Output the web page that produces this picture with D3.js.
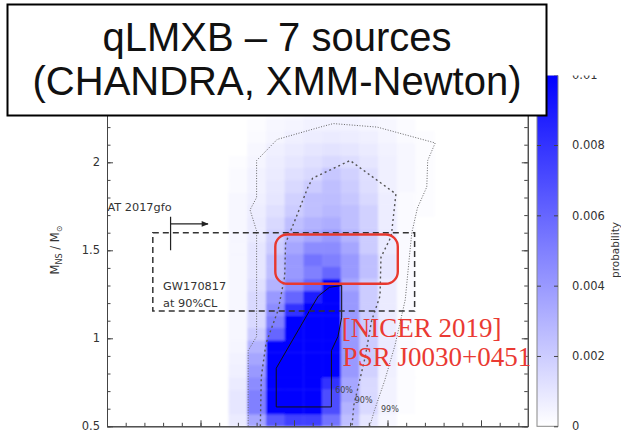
<!DOCTYPE html>
<html>
<head>
<meta charset="utf-8">
<script src="https://cdn.jsdelivr.net/npm/d3@7"></script>
<style>
  body { margin: 0; background: #fff; }
  svg { display: block; }
</style>
</head>
<body>
<div id="chart"></div>
<script>
// ---- data ----
const titleLines = ['qLMXB \u2013 7 sources', '(CHANDRA, XMM-Newton)'];

// heatmap bins: radius centres (km) and mass lower edges (Msun), bin size 0.2 x 0.07
const radiusCenters = [10.4, 10.6, 10.8, 11.0, 11.2, 11.4, 11.6, 11.8, 12.0, 12.2, 12.4];
const massEdges = [0.50, 0.57, 0.64, 0.71, 0.78, 0.85, 0.92, 0.99, 1.06, 1.13, 1.20, 1.27, 1.34,
                   1.41, 1.48, 1.55, 1.62, 1.69, 1.76, 1.83, 1.90, 1.97, 2.04, 2.11, 2.18, 2.25];
// probability, in units of 1e-3 (one row per mass bin, bottom first)
const density = [
  [0.8, 3.5, 6.5, 7.5, 7.5, 5.5, 2.5, 1.0, 0.3, 0.0, 0.0],
  [1.0, 5.0, 12, 14, 14, 7.0, 3.0, 1.5, 0.5, 0.1, 0.0],
  [1.0, 5.0, 12, 14, 14, 7.0, 3.5, 1.5, 0.5, 0.1, 0.0],
  [0.8, 4.5, 12, 14, 14, 8.0, 3.5, 1.5, 0.5, 0.1, 0.0],
  [0.6, 4.0, 11, 14, 14, 11, 4.0, 1.8, 0.6, 0.1, 0.0],
  [0.5, 3.5, 11, 14, 14, 11, 4.0, 2.0, 0.7, 0.1, 0.0],
  [0.4, 3.0, 10, 13, 14, 11, 4.0, 2.0, 0.8, 0.2, 0.0],
  [0.3, 2.0, 6.0, 12, 13, 11, 4.0, 2.0, 0.8, 0.2, 0.0],
  [0.3, 1.5, 5.0, 11, 13, 11, 4.0, 2.0, 0.8, 0.2, 0.0],
  [0.3, 1.5, 4.5, 8.0, 11, 11, 4.0, 2.0, 0.8, 0.2, 0.0],
  [0.3, 1.5, 4.0, 6.0, 9.0, 11, 4.0, 2.0, 0.8, 0.2, 0.0],
  [0.3, 1.2, 3.0, 4.5, 6.0, 10, 3.5, 2.0, 0.8, 0.2, 0.0],
  [0.3, 1.0, 2.5, 4.0, 5.0, 6.0, 4.0, 2.5, 1.0, 0.2, 0.0],
  [0.3, 1.0, 2.5, 4.0, 5.5, 5.0, 4.0, 2.5, 1.0, 0.2, 0.0],
  [0.3, 1.0, 2.0, 3.5, 4.5, 4.5, 3.5, 2.0, 0.8, 0.2, 0.0],
  [0.3, 0.8, 1.8, 3.0, 3.5, 4.0, 3.0, 2.0, 0.8, 0.2, 0.0],
  [0.3, 0.8, 1.5, 2.5, 3.0, 3.2, 2.5, 1.8, 0.7, 0.2, 0.0],
  [0.3, 0.7, 1.2, 2.0, 2.5, 2.8, 2.5, 1.8, 0.7, 0.2, 0.1],
  [0.3, 0.6, 1.0, 1.8, 2.5, 2.6, 2.2, 1.5, 0.7, 0.2, 0.1],
  [0.2, 0.5, 0.9, 1.5, 2.0, 2.5, 2.0, 1.3, 0.6, 0.3, 0.1],
  [0.2, 0.5, 0.8, 1.2, 1.5, 2.2, 1.8, 1.2, 0.6, 0.3, 0.1],
  [0.1, 0.4, 0.7, 1.0, 1.2, 1.5, 1.3, 1.0, 0.6, 0.3, 0.1],
  [0.0, 0.3, 0.6, 0.8, 1.0, 1.1, 1.0, 0.8, 0.5, 0.3, 0.1],
  [0.0, 0.2, 0.4, 0.6, 0.7, 0.8, 0.7, 0.6, 0.4, 0.2, 0.1],
  [0.0, 0.1, 0.3, 0.4, 0.5, 0.5, 0.5, 0.4, 0.3, 0.15, 0.0],
  [0.0, 0.0, 0.1, 0.2, 0.3, 0.3, 0.3, 0.2, 0.1, 0.0, 0.0]
];

const yTickValues = [0.5, 1, 1.5, 2];
const yTickLabels = ['0.5', '1', '1.5', '2'];
const cbTickValues = [0, 0.002, 0.004, 0.006, 0.008, 0.01];
const cbTickLabels = ['0', '0.002', '0.004', '0.006', '0.008', '0.01'];

// credible contours [R, M]
const contour60 = [[10.81, 0.61], [10.81, 0.83], [11.17, 1.16], [11.26, 1.24], [11.38, 1.29],
                   [11.51, 1.30], [11.51, 1.12], [11.47, 1.01], [11.40, 0.93], [11.40, 0.61]];
const contour90 = [[10.64, 0.50], [10.65, 0.78], [10.70, 0.97], [10.83, 1.16], [10.90, 1.35],
                   [10.91, 1.54], [11.01, 1.67], [11.15, 1.86], [11.20, 1.91], [11.60, 2.01],
                   [12.09, 1.82], [12.04, 1.58], [11.93, 1.46], [11.92, 1.24], [11.83, 1.10],
                   [11.76, 0.89], [11.68, 0.71], [11.64, 0.62], [11.62, 0.50]];
const contour99 = [[10.51, 0.50], [10.51, 0.93], [10.60, 1.01], [10.60, 1.61], [10.53, 1.73],
                   [10.60, 1.80], [10.60, 2.01], [10.82, 2.13], [11.28, 2.20], [11.42, 2.22],
                   [11.89, 2.20], [12.51, 2.11], [12.43, 2.01], [12.42, 1.86], [12.32, 1.74],
                   [12.26, 1.60], [12.23, 1.44], [12.19, 1.22], [12.08, 0.96], [11.97, 0.76],
                   [11.86, 0.59], [11.81, 0.50]];
const contourLabels = ['60%', '90%', '99%'];
const contourLabelPos = [[11.44, 0.69], [11.65, 0.635], [11.93, 0.58]];

// GW170817 box and NICER box
const gwR = [9.49, 12.29];
const gwM = [1.155, 1.60];
const nicerR = [10.80, 12.11];
const nicerM = [1.31, 1.59];
// AT 2017gfo lower bound marker
const atR = 9.68;
const atM = [1.50, 1.69];
const atArrow = [[9.68, 1.65], [10.08, 1.65]];

// ---- layout ----
const W = 621, H = 435;
const x = d3.scaleLinear().domain([9, 13.5]).range([107, 527.75]);
const y = d3.scaleLinear().domain([0.5, 2.5]).range([426.3, 74.3]);
const cb = d3.scaleLinear().domain([0, 0.01]).range([426.3, 74.7]);
const color = d3.scaleLinear().domain([0, 10]).range(['#ffffff', '#0000ff']).clamp(true);

const svg = d3.select('#chart').append('svg')
  .attr('width', W).attr('height', H)
  .style('font-family', '"DejaVu Sans", sans-serif');

const defs = svg.append('defs');
defs.append('clipPath').attr('id', 'topclip')
  .append('rect').attr('x', 0).attr('y', 75.5).attr('width', W).attr('height', H);
defs.append('filter').attr('id', 'soft')
  .append('feGaussianBlur').attr('stdDeviation', 0.9);
const grad = defs.append('linearGradient').attr('id', 'cbgrad')
  .attr('x1', 0).attr('y1', 1).attr('x2', 0).attr('y2', 0);
grad.selectAll('stop').data(d3.range(0, 1.01, 0.1)).enter().append('stop')
  .attr('offset', d => d)
  .attr('stop-color', d => color(d * 10));
defs.append('marker').attr('id', 'arrow')
  .attr('viewBox', '0 0 10 10').attr('refX', 9).attr('refY', 5)
  .attr('markerWidth', 8).attr('markerHeight', 7).attr('markerUnits', 'userSpaceOnUse')
  .attr('orient', 'auto')
  .append('path').attr('d', 'M0,1L10,5L0,9Z').attr('fill', '#222');

const plot = svg.append('g').attr('clip-path', 'url(#topclip)');

// heatmap
const cells = [];
density.forEach((row, j) => row.forEach((v, i) => cells.push({ r: radiusCenters[i], m: massEdges[j], v })));
plot.append('g').attr('filter', 'url(#soft)')
  .selectAll('rect').data(cells).enter().append('rect')
  .attr('x', d => x(d.r - 0.1))
  .attr('y', d => y(d.m + 0.07))
  .attr('width', d => x(d.r + 0.1) - x(d.r - 0.1) + 0.4)
  .attr('height', d => y(d.m) - y(d.m + 0.07) + 0.4)
  .attr('fill', d => color(d.v));

// contours
const line = d3.line().x(d => x(d[0])).y(d => y(d[1]));
plot.append('path').attr('d', line(contour99))
  .attr('fill', 'none').attr('stroke', '#666').attr('stroke-width', 1)
  .attr('stroke-dasharray', '1,1.6');
plot.append('path').attr('d', line(contour90))
  .attr('fill', 'none').attr('stroke', '#555').attr('stroke-width', 1.4)
  .attr('stroke-dasharray', '2,3');
plot.append('path').attr('d', line(contour60) + 'Z')
  .attr('fill', 'none').attr('stroke', '#111').attr('stroke-width', 1);

plot.selectAll('.clab').data(contourLabels).enter().append('text')
  .attr('x', (d, i) => x(contourLabelPos[i][0]))
  .attr('y', (d, i) => y(contourLabelPos[i][1]))
  .attr('font-size', 8).attr('fill', '#444')
  .text(d => d);

// GW170817 box
plot.append('rect')
  .attr('x', x(gwR[0])).attr('y', y(gwM[1]))
  .attr('width', x(gwR[1]) - x(gwR[0])).attr('height', y(gwM[0]) - y(gwM[1]))
  .attr('fill', 'none').attr('stroke', '#333').attr('stroke-width', 1.5)
  .attr('stroke-dasharray', '6,4');

// AT 2017gfo marker
plot.append('line')
  .attr('x1', x(atR)).attr('x2', x(atR))
  .attr('y1', y(atM[0])).attr('y2', y(atM[1]))
  .attr('stroke', '#222').attr('stroke-width', 1.2);
plot.append('path').attr('d', line(atArrow))
  .attr('stroke', '#222').attr('stroke-width', 1.2).attr('marker-end', 'url(#arrow)');

// axes
const axisStyle = g => {
  g.selectAll('path').attr('stroke', '#444');
  g.selectAll('line').attr('stroke', '#444');
  g.selectAll('text').attr('fill', '#333').attr('font-size', 11.5)
    .attr('font-family', '"DejaVu Sans", sans-serif');
};
const yMinor = y.ticks(20);
const xMajor = x.ticks(5);
const xMinor = d3.range(9, 13.51, 0.2);

plot.append('g').attr('transform', 'translate(107,0)')
  .call(d3.axisLeft(y).tickValues(yMinor).tickSizeInner(-3.5).tickSizeOuter(0).tickFormat(''))
  .call(axisStyle);
plot.append('g').attr('transform', 'translate(107,0)')
  .call(d3.axisLeft(y).tickValues(yTickValues).tickSizeInner(-6).tickSizeOuter(0)
    .tickPadding(7).tickFormat((d, i) => yTickLabels[i]))
  .call(axisStyle);
plot.append('g').attr('transform', 'translate(527.75,0)')
  .call(d3.axisRight(y).tickValues(yMinor).tickSizeInner(-3.5).tickSizeOuter(0).tickFormat(''))
  .call(axisStyle);
plot.append('g').attr('transform', 'translate(527.75,0)')
  .call(d3.axisRight(y).tickValues(yTickValues).tickSizeInner(-6).tickSizeOuter(0).tickFormat(''))
  .call(axisStyle);
plot.append('g').attr('transform', 'translate(0,426.3)')
  .call(d3.axisBottom(x).tickValues(xMinor).tickSizeInner(-3.5).tickSizeOuter(0).tickFormat(''))
  .call(axisStyle);
plot.append('g').attr('transform', 'translate(0,426.3)')
  .call(d3.axisBottom(x).tickValues(xMajor).tickSizeInner(-6).tickSizeOuter(0).tickFormat(''))
  .call(axisStyle);

// y axis title
const yt = plot.append('text')
  .attr('transform', 'translate(59,250) rotate(-90)')
  .attr('text-anchor', 'middle').attr('font-size', 11.5).attr('fill', '#333');
yt.append('tspan').text('M');
yt.append('tspan').attr('font-size', 8).attr('dy', 3).text('NS');
yt.append('tspan').attr('dy', -3).text(' / M');
yt.append('tspan').attr('font-size', 8).attr('dy', 3).text('\u2299');

// colorbar
plot.append('rect')
  .attr('x', 537).attr('y', cb(0.01)).attr('width', 21).attr('height', cb(0) - cb(0.01))
  .attr('fill', 'url(#cbgrad)').attr('stroke', '#888').attr('stroke-width', 1);
plot.append('g').attr('transform', 'translate(537,0)')
  .call(d3.axisLeft(cb).tickValues(cbTickValues.slice(1, -1)).tickSizeInner(-4).tickSizeOuter(0).tickFormat(''))
  .call(g => g.select('.domain').remove())
  .call(axisStyle);
plot.append('g').attr('transform', 'translate(558,0)')
  .call(d3.axisRight(cb).tickValues(cbTickValues).tickSizeInner(-4).tickSizeOuter(0)
    .tickPadding(14).tickFormat((d, i) => cbTickLabels[i]))
  .call(g => g.select('.domain').remove())
  .call(axisStyle);
plot.append('text')
  .attr('transform', 'translate(619,250) rotate(-90)')
  .attr('text-anchor', 'middle').attr('font-size', 10.5).attr('fill', '#333')
  .text('probability');

// annotations
plot.append('text').attr('x', x(9.005)).attr('y', y(1.724))
  .attr('font-size', 11.3).attr('fill', '#333').text('AT 2017gfo');
plot.append('text').attr('x', x(9.60)).attr('y', y(1.273))
  .attr('font-size', 11.3).attr('fill', '#333').text('GW170817');
plot.append('text').attr('x', x(9.60)).attr('y', y(1.18))
  .attr('font-size', 11.3).attr('fill', '#333').text('at 90%CL');

// NICER
plot.append('rect')
  .attr('x', x(nicerR[0])).attr('y', y(nicerM[1]))
  .attr('width', x(nicerR[1]) - x(nicerR[0])).attr('height', y(nicerM[0]) - y(nicerM[1]))
  .attr('rx', 12).attr('ry', 12)
  .attr('fill', 'none').attr('stroke', '#e8382f').attr('stroke-width', 2.4);
const nicer = plot.append('g')
  .attr('font-family', '"Liberation Serif", "Times New Roman", serif')
  .attr('font-size', 27).attr('fill', '#ea3a33');
nicer.append('text').attr('x', x(11.51)).attr('y', y(1.01)).text('[NICER 2019]');
nicer.append('text').attr('x', x(11.52)).attr('y', y(0.84)).text('PSR J0030+0451');

// title box
svg.append('rect')
  .attr('x', 7.5).attr('y', 4.5).attr('width', 539).attr('height', 111)
  .attr('fill', '#fff').attr('stroke', '#000').attr('stroke-width', 2);
svg.selectAll('.title').data(titleLines).enter().append('text')
  .attr('x', 277).attr('y', (d, i) => i === 0 ? 51 : 95)
  .attr('text-anchor', 'middle')
  .attr('font-family', '"Liberation Sans", Arial, sans-serif')
  .attr('font-size', 40).attr('fill', '#111')
  .text(d => d);
</script>
</body>
</html>
